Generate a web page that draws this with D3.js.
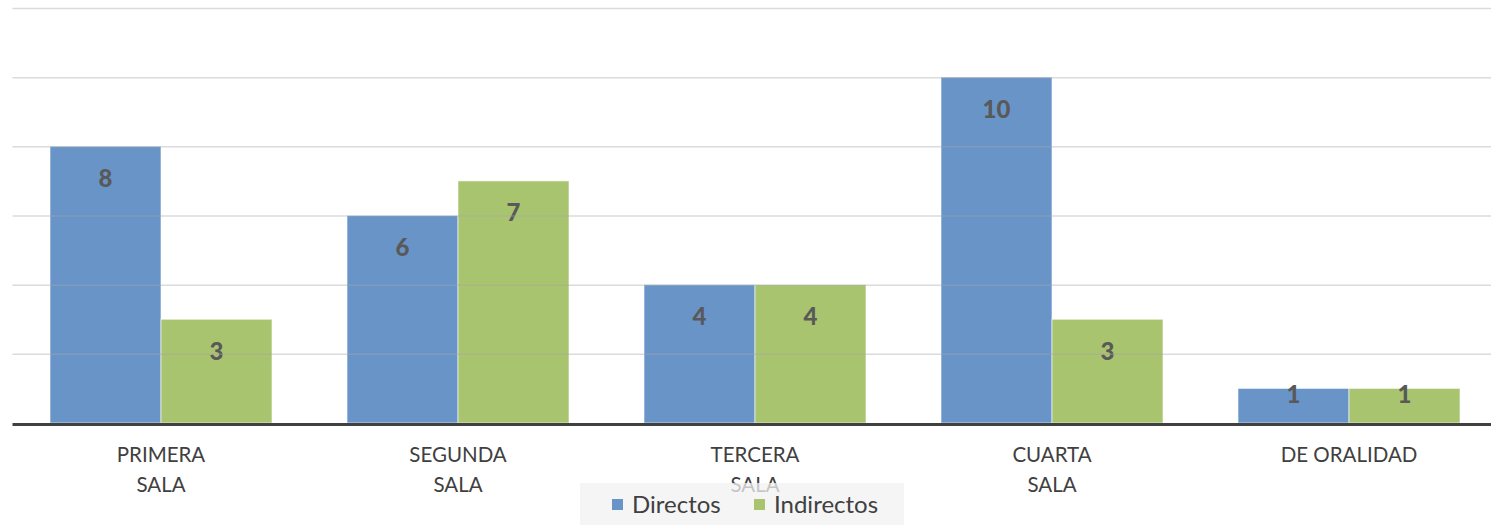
<!DOCTYPE html>
<html>
<head>
<meta charset="utf-8">
<script src="https://cdn.jsdelivr.net/npm/d3@7"></script>
<style>
  html, body { margin: 0; padding: 0; background: #fff; }
  svg { display: block; }
</style>
</head>
<body>
<svg id="chart" width="1491" height="525"></svg>
<script>
// Categories and series
const categories = [["PRIMERA", "SALA"], ["SEGUNDA", "SALA"], ["TERCERA", "SALA"], ["CUARTA", "SALA"], ["DE ORALIDAD"]];
const seriesNames = ["Directos", "Indirectos"];
const directos = [8, 6, 4, 10, 1];
const indirectos = [3, 7, 4, 3, 1];
const yTicks = [0, 2, 4, 6, 8, 10, 12];

const colors = { Directos: "#6994c8", Indirectos: "#a9c46f" };
const font = "Lato, 'Open Sans', sans-serif";

const plot = { left: 12.5, right: 1497.5, top: 8, bottom: 423 };

const svg = d3.select("#chart");

const x0 = d3.scaleBand()
  .domain(d3.range(categories.length))
  .range([plot.left, plot.right])
  .padding(0);

const x1 = d3.scaleBand()
  .domain(seriesNames)
  .range([37.5, x0.bandwidth() - 37.5])
  .padding(0);

const y = d3.scaleLinear().domain([0, 12]).range([plot.bottom, plot.top]);

const rows = categories.map((c, i) => ({
  i, label: c,
  values: [{ key: "Directos", v: directos[i] }, { key: "Indirectos", v: indirectos[i] }]
}));

// Bars
const groups = svg.append("g").selectAll("g")
  .data(rows).join("g")
  .attr("transform", d => `translate(${x0(d.i)},0)`);

groups.selectAll("rect")
  .data(d => d.values).join("rect")
  .attr("x", d => x1(d.key))
  .attr("y", d => y(d.v))
  .attr("width", x1.bandwidth())
  .attr("height", d => y(0) - y(d.v))
  .attr("fill", d => colors[d.key])
  .attr("stroke", "#ffffff")
  .attr("stroke-opacity", 0.6)
  .attr("stroke-width", 1);

// Gridlines, faintly visible over the bars
svg.append("g").selectAll("line")
  .data(yTicks.filter(t => t > 0)).join("line")
  .attr("x1", plot.left).attr("x2", 1491)
  .attr("y1", d => y(d) + 0.5).attr("y2", d => y(d) + 0.5)
  .attr("stroke", "#a6a6a6")
  .attr("stroke-opacity", 0.4)
  .attr("stroke-width", 1.5);

// Baseline
svg.append("line")
  .attr("x1", plot.left).attr("x2", 1491)
  .attr("y1", y(0) + 1.5).attr("y2", y(0) + 1.5)
  .attr("stroke", "#404040")
  .attr("stroke-width", 3);

// Value labels
groups.selectAll("text.val")
  .data(d => d.values).join("text")
  .attr("class", "val")
  .attr("x", d => x1(d.key) + x1.bandwidth() / 2)
  .attr("y", d => Math.min(y(d.v) + 32, y(0) - 28))
  .attr("dy", "0.35em")
  .attr("text-anchor", "middle")
  .attr("font-family", font)
  .attr("font-weight", 900)
  .attr("font-size", 24)
  .attr("fill", "#595959")
  .text(d => d.v);

// Category labels
const catText = svg.append("g").selectAll("text")
  .data(rows).join("text")
  .attr("x", d => x0(d.i) + x0.bandwidth() / 2)
  .attr("y", 455)
  .attr("text-anchor", "middle")
  .attr("font-family", font)
  .attr("font-size", 20.5)
  .attr("fill", "#404040");

catText.selectAll("tspan")
  .data(d => d.label).join("tspan")
  .attr("x", function () { return d3.select(this.parentNode).attr("x"); })
  .attr("dy", (d, k) => k === 0 ? "0.35em" : "1.45em")
  .text(d => d);

// Legend
const legend = svg.append("g");
legend.append("rect")
  .attr("x", 580).attr("y", 483)
  .attr("width", 324).attr("height", 42)
  .attr("fill", "#f2f2f2")
  .attr("fill-opacity", 0.75);

const items = [
  { key: "Directos", sx: 612, tx: 632 },
  { key: "Indirectos", sx: 754, tx: 774 }
];
legend.selectAll("rect.sw")
  .data(items).join("rect")
  .attr("class", "sw")
  .attr("x", d => d.sx).attr("y", 499)
  .attr("width", 11).attr("height", 11)
  .attr("fill", d => colors[d.key]);
legend.selectAll("text")
  .data(items).join("text")
  .attr("x", d => d.tx).attr("y", 505)
  .attr("dy", "0.35em")
  .attr("font-family", font)
  .attr("font-size", 24)
  .attr("fill", "#404040")
  .text(d => d.key);
</script>
</body>
</html>
